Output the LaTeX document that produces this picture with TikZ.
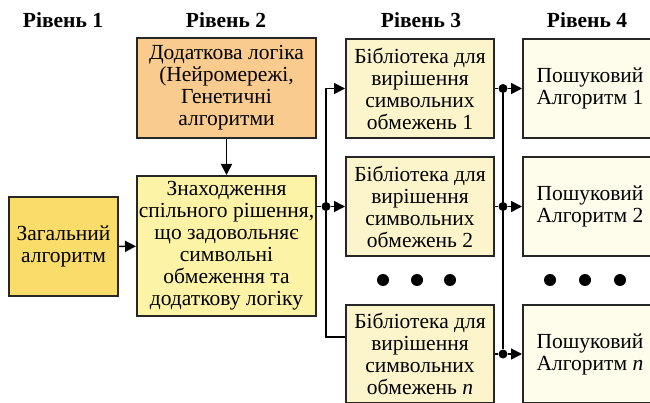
\documentclass[tikz,border=0pt]{standalone}
\usepackage{fontspec}
\setmainfont{Liberation Serif}
\usetikzlibrary{arrows.meta}

\definecolor{genfill}{HTML}{FADC6A}
\definecolor{extrafill}{HTML}{F9CB8E}
\definecolor{jointfill}{HTML}{FCF3A6}
\definecolor{libfill}{HTML}{FCF5CC}
\definecolor{algfill}{HTML}{FEFCEA}

\tikzset{
	box/.style={draw=black!85, line width=2pt, align=center, inner sep=1pt,
		font=\fontsize{21.5}{22}\selectfont},
	lvlhead/.style={font=\bfseries\fontsize{21.5}{24}\selectfont},
	wire/.style={line width=1.6pt},
	link/.style={line width=1.6pt, -{Triangle[length=11pt,width=11pt]}},
	junction/.style={circle, fill=black, inner sep=0pt, minimum size=9pt},
	etcdot/.style={circle, fill=black, inner sep=0pt, minimum size=12pt}
}

\begin{document}
\begin{tikzpicture}[x=1pt, y=-1pt]
			%%%%% START %%%%%
			
			\useasboundingbox (0, 0) rectangle (650, 403);
			\clip (0, 0) rectangle (650, 403);
			
			\node[lvlhead] (head1) at (63, 20) {Рівень 1};
			\node[lvlhead] (head2) at (226, 20) {Рівень 2};
			\node[lvlhead] (head3) at (421, 20) {Рівень 3};
			\node[lvlhead] (head4) at (587, 20) {Рівень 4};
			
			\node[box, fill=genfill, minimum width=109, minimum height=99] (gen) at (63.5, 246.5) {Загальний\\алгоритм};
			\node[box, fill=extrafill, minimum width=179, minimum height=100] (extra) at (226.5, 88) {Додаткова логіка\\(Нейромережі,\\Генетичні\\алгоритми};
			\node[box, fill=jointfill, minimum width=179, minimum height=140] (joint) at (226.5, 246) {Знаходження\\спільного рішення,\\що задовольняє\\символьні\\обмеження та\\додаткову логіку};
			
			\node[box, fill=libfill, minimum width=148, minimum height=99] (lib1) at (420, 88.5) {Бібліотека для\\вирішення\\символьних\\обмежень 1};
			\node[box, fill=libfill, minimum width=148, minimum height=99] (lib2) at (420, 206.5) {Бібліотека для\\вирішення\\символьних\\обмежень 2};
			\node[box, fill=libfill, minimum width=148, minimum height=98] (libn) at (420, 354) {Бібліотека для\\вирішення\\символьних\\обмежень \textit{n}};
			
			\node[box, fill=algfill, minimum width=134, minimum height=99] (alg1) at (590, 88.5) {Пошуковий\\Алгоритм 1};
			\node[box, fill=algfill, minimum width=134, minimum height=99] (alg2) at (590, 206.5) {Пошуковий\\Алгоритм 2};
			\node[box, fill=algfill, minimum width=134, minimum height=98] (algn) at (590, 354) {Пошуковий\\Алгоритм \textit{n}};
			
			\draw[link] (extra) -- (joint);
			\draw[link] (gen) -- (joint);
			
			% left bus
			\node[junction] (jl) at (326, 206.5) {};
			\coordinate (bustop) at (326, 88.5);
			\coordinate (busbot) at (326, 337);
			\draw[wire] (joint.east |- jl) -- (jl);
			\draw[link] (jl) -- (lib2);
			\draw[link] (bustop) -- (lib1);
			\draw[wire] (bustop) -- (busbot) -- (busbot -| libn.west);
			
			% right bus
			\node[junction] (jr1) at (503, 88.5) {};
			\node[junction] (jr2) at (503, 206.5) {};
			\node[junction] (jrn) at (503, 354) {};
			\draw[wire] (jr1) -- (jrn);
			\draw[wire] (lib1) -- (jr1);
			\draw[wire] (lib2) -- (jr2);
			\draw[wire] (libn) -- (jrn);
			\draw[link] (jr1) -- (alg1);
			\draw[link] (jr2) -- (alg2);
			\draw[link] (jrn) -- (algn);
			
			\foreach \x in {383, 417, 450, 550, 585, 620}
				\node[etcdot] (dot\x) at (\x, 280) {};
			
			%%%%% END %%%%%
\end{tikzpicture}
\end{document}
